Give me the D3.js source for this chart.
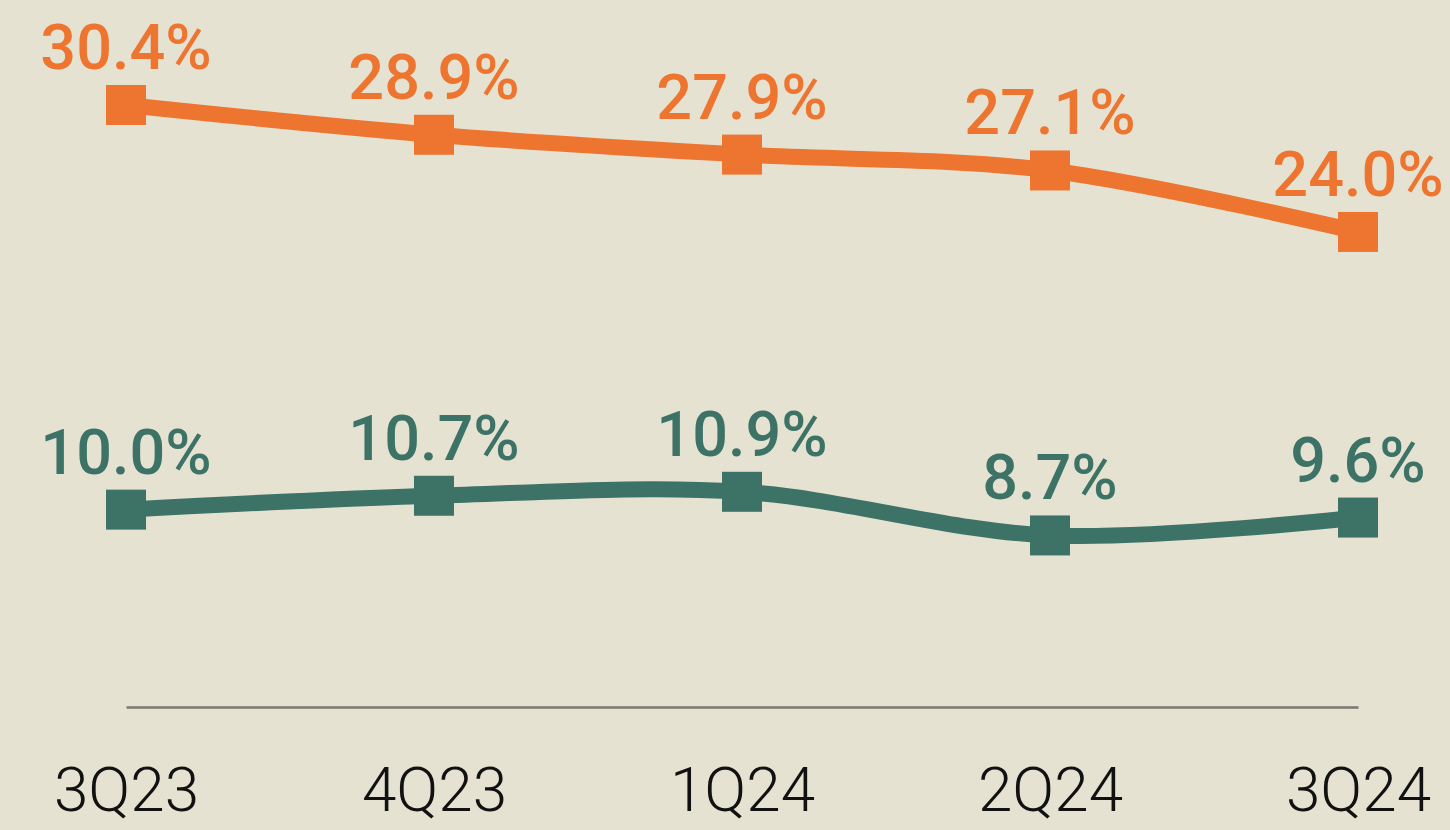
<!DOCTYPE html>
<html>
<head>
<meta charset="utf-8">
<script src="https://cdn.jsdelivr.net/npm/d3@7"></script>
<style>
  html, body { margin: 0; padding: 0; background: #e5e2d2; }
  svg { display: block; }
</style>
</head>
<body>
<svg id="chart" width="1450" height="830"></svg>
<script>
const categories = ["3Q23", "4Q23", "1Q24", "2Q24", "3Q24"];
const orangeValues = [30.4, 28.9, 27.9, 27.1, 24.0];
const greenValues = [10.0, 10.7, 10.9, 8.7, 9.6];

const W = 1450, H = 830;
const svg = d3.select("#chart");
svg.append("rect").attr("width", W).attr("height", H).attr("fill", "#e5e2d2");

const x = d3.scalePoint().domain(categories).range([126, 1358]);
const y = d3.scaleLinear().domain([0, 30.4]).range([708, 105]);

// axis
const axis = d3.axisBottom(x).tickSize(0).tickSizeOuter(0).tickPadding(60);
const gAxis = svg.append("g").attr("transform", "translate(0,707)").call(axis);
gAxis.select(".domain").attr("stroke", "#7a776e").attr("stroke-width", 2.5);
gAxis.selectAll("text")
  .attr("font-family", "Roboto, 'Liberation Sans', sans-serif")
  .attr("font-weight", 300)
  .attr("font-size", 62)
  .attr("fill", "#111");

const series = [
  { values: orangeValues, color: "#ed7530" },
  { values: greenValues, color: "#3c7366" }
];

const line = d3.line()
  .x((d, i) => x(categories[i]))
  .y(d => y(d))
  .curve(d3.curveCatmullRom.alpha(0.5));

series.forEach(s => {
  const g = svg.append("g");
  g.append("path")
    .datum(s.values)
    .attr("d", line)
    .attr("fill", "none")
    .attr("stroke", s.color)
    .attr("stroke-width", 16);
  g.selectAll("rect.m")
    .data(s.values)
    .join("rect")
    .attr("class", "m")
    .attr("x", (d, i) => x(categories[i]) - 20)
    .attr("y", d => y(d) - 20)
    .attr("width", 40)
    .attr("height", 40)
    .attr("fill", s.color);
  g.selectAll("text.l")
    .data(s.values)
    .join("text")
    .attr("class", "l")
    .attr("x", (d, i) => x(categories[i]))
    .attr("y", d => y(d) - 36)
    .attr("text-anchor", "middle")
    .attr("font-family", "Roboto, 'Liberation Sans', sans-serif")
    .attr("font-weight", 500)
    .attr("font-size", 63)
    .attr("fill", s.color)
    .text(d => d.toFixed(1) + "%");
});
</script>
</body>
</html>
